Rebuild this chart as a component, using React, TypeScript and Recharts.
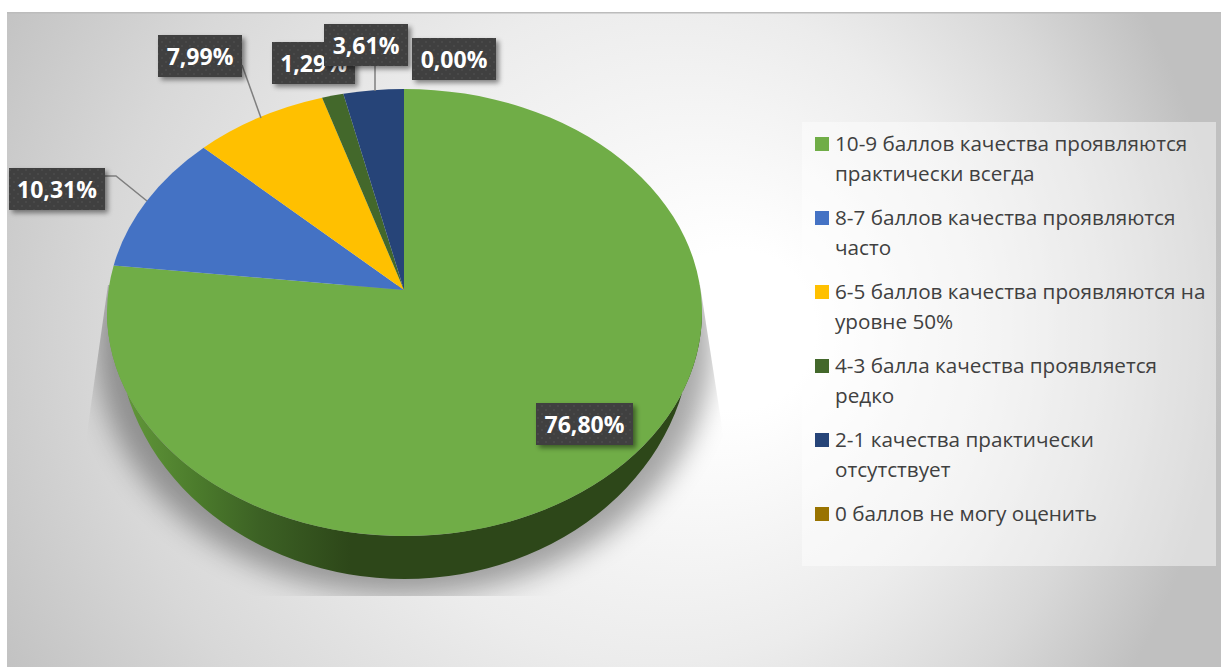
import { PieChart, Pie, Cell, Legend } from 'recharts';

const categories = [
  '10-9 баллов качества проявляются практически всегда',
  '8-7 баллов качества проявляются часто',
  '6-5 баллов качества проявляются на уровне 50%',
  '4-3 балла качества проявляется редко',
  '2-1 качества практически отсутствует',
  '0 баллов не могу оценить',
];
const shares = [76.8, 10.31, 7.99, 1.29, 3.61, 0];
const colors = ['#70AD47', '#4472C4', '#FFC000', '#43682B', '#264478', '#997300'];
const sideColors = ['url(#greenSide)', '#2f4a78', '#997300', '#2b431c', '#17294a', '#5c4500'];

// data labels were dragged by hand in the original, so each box has its own spot
const labelBoxes = [
  { x: 536, y: 403, w: 97 },
  { x: 9, y: 168, w: 96 },
  { x: 158, y: 35, w: 84 },
  { x: 272, y: 42, w: 83 },
  { x: 324, y: 24, w: 84 },
  { x: 412, y: 38, w: 84 },
];
const leaderLines = [
  '',
  'M105 176 L116 176 L147 201',
  'M242 65 L261 118',
  '',
  'M375 66 L375 91',
  '',
];

const data = categories.map((name, i) => ({ name, value: shares[i] }));

// tilted pie: the apex is not the middle of the ellipse
const APEX_X = 404;
const APEX_Y = 290;
const TOP = { cx: 404.5, cy: 312.5, rx: 297.5, ry: 223.5 };
const LOW = { cx: 404.5, cy: 330, rx: 287, ry: 249 };
const STRETCH = 1.34;

function rimPoint(theta: number) {
  const rad = (theta * Math.PI) / 180;
  const dx = STRETCH * Math.sin(rad);
  const dy = -Math.cos(rad);
  const ox = (APEX_X - TOP.cx) / TOP.rx;
  const oy = (APEX_Y - TOP.cy) / TOP.ry;
  const ux = dx / TOP.rx;
  const uy = dy / TOP.ry;
  const a = ux * ux + uy * uy;
  const b = 2 * (ox * ux + oy * uy);
  const c = ox * ox + oy * oy - 1;
  const t = (-b + Math.sqrt(b * b - 4 * a * c)) / (2 * a);
  return { x: APEX_X + t * dx, y: APEX_Y + t * dy };
}

function TiltedSector(props: any) {
  const from = 90 - props.startAngle;
  const to = 90 - props.endAngle;
  if (to - from <= 0) return <g />;
  const p0 = rimPoint(from);
  const p1 = rimPoint(to);
  const large = to - from > 180 ? 1 : 0;
  const d = `M${APEX_X} ${APEX_Y} L${p0.x} ${p0.y} A${TOP.rx} ${TOP.ry} 0 ${large} 1 ${p1.x} ${p1.y} Z`;
  return <path d={d} fill={props.fill} />;
}

function onEllipse(e: typeof TOP, theta: number) {
  const rad = (theta * Math.PI) / 180;
  return { x: e.cx + e.rx * Math.sin(rad), y: e.cy - e.ry * Math.cos(rad) };
}

// wall under the front half of the pie
function TiltedSide(props: any) {
  const from = Math.max(90 - props.startAngle, 90);
  const to = Math.min(90 - props.endAngle, 270);
  if (to <= from) return <g />;
  const a = onEllipse(TOP, from);
  const b = onEllipse(TOP, to);
  const c = onEllipse(LOW, to);
  const e = onEllipse(LOW, from);
  const d = `M${a.x} ${a.y} A${TOP.rx} ${TOP.ry} 0 0 1 ${b.x} ${b.y} L${c.x} ${c.y} A${LOW.rx} ${LOW.ry} 0 0 0 ${e.x} ${e.y} Z`;
  return <path d={d} fill={props.fill} />;
}

function renderLabel(props: any) {
  const box = labelBoxes[props.index];
  const text = `${Number(props.value).toFixed(2).replace('.', ',')}%`;
  return (
    <g key={props.index}>
      {leaderLines[props.index] && (
        <path d={leaderLines[props.index]} fill="none" stroke="#7f7f7f" strokeWidth={1.5} />
      )}
      <rect x={box.x} y={box.y} width={box.w} height={42} fill="url(#dots)" filter="url(#boxShadow)" />
      <text
        x={box.x + box.w / 2}
        y={box.y + 21}
        textAnchor="middle"
        dominantBaseline="central"
        fill="#fff"
        fontFamily="'Open Sans', sans-serif"
        fontWeight={700}
        fontSize={23}
      >
        {text}
      </text>
    </g>
  );
}

function renderLegend(props: any) {
  const items = props.payload.filter((item: any) => item.type !== 'none');
  return (
    <div
      style={{
        width: 414,
        height: 444,
        boxSizing: 'border-box',
        padding: '7px 8px 0 13px',
        background: 'rgba(255,255,255,0.45)',
        fontFamily: "'Open Sans', sans-serif",
        fontSize: 20.7,
        lineHeight: '29.5px',
        color: '#404040',
      }}
    >
      {items.map((item: any) => (
        <div key={item.value} style={{ display: 'flex', height: 74 }}>
          <span
            style={{
              flex: 'none',
              width: 14,
              height: 14,
              marginTop: 8,
              marginRight: 6,
              background: item.color,
            }}
          />
          <span>{item.value}</span>
        </div>
      ))}
    </div>
  );
}

export default function App() {
  return (
    <div style={{ position: 'absolute', left: 0, top: 0 }}>
      <PieChart width={1221} height={667}>
        <defs>
          <radialGradient id="plate" gradientUnits="userSpaceOnUse" cx={560} cy={330} r={665} fx={760} fy={330}>
            <stop offset="12%" stopColor="#ffffff" />
            <stop offset="50%" stopColor="#ececec" />
            <stop offset="76%" stopColor="#d8d8d8" />
            <stop offset="100%" stopColor="#c0c0c0" />
          </radialGradient>
          <linearGradient id="greenSide" gradientUnits="userSpaceOnUse" x1={112} y1={0} x2={350} y2={0}>
            <stop offset="0%" stopColor="#659c3c" />
            <stop offset="35%" stopColor="#4c7c2c" />
            <stop offset="62%" stopColor="#3c6124" />
            <stop offset="100%" stopColor="#2d4719" />
          </linearGradient>
          <pattern id="dots" width={8} height={8} patternUnits="userSpaceOnUse">
            <rect width={8} height={8} fill="#404040" />
            <circle cx={2} cy={2} r={0.8} fill="#565656" />
            <circle cx={6} cy={6} r={0.8} fill="#565656" />
          </pattern>
          <filter id="boxShadow" x="-20%" y="-30%" width="140%" height="160%">
            <feDropShadow dx={3} dy={3} stdDeviation={2.5} floodColor="#000" floodOpacity={0.45} />
          </filter>
          <filter id="soft" x="-20%" y="-20%" width="140%" height="140%">
            <feGaussianBlur stdDeviation={14} />
          </filter>
          <clipPath id="shadowClip">
            <path d="M108 285 L87 433 L87 596 L723 596 L723 433 L700 285 Z" />
          </clipPath>
        </defs>
        <rect x={7} y={13} width={1214} height={654} fill="url(#plate)" />
        <rect x={7} y={12} width={1214} height={1.5} fill="#bcbcbc" />
        <g clipPath="url(#shadowClip)">
          <ellipse cx={404} cy={345} rx={308} ry={250} fill="#000" opacity={0.34} filter="url(#soft)" />
        </g>
        <Pie
          data={data}
          dataKey="value"
          nameKey="name"
          cx={APEX_X}
          cy={APEX_Y}
          outerRadius={297}
          startAngle={90}
          endAngle={-270}
          stroke="none"
          legendType="none"
          shape={TiltedSide}
          isAnimationActive={false}
        >
          {data.map((entry, index) => (
            <Cell key={`side-${index}`} fill={sideColors[index]} />
          ))}
        </Pie>
        <Pie
          data={data}
          dataKey="value"
          nameKey="name"
          cx={APEX_X}
          cy={APEX_Y}
          outerRadius={297}
          startAngle={90}
          endAngle={-270}
          stroke="none"
          legendType="square"
          shape={TiltedSector}
          label={renderLabel}
          labelLine={false}
          isAnimationActive={false}
        >
          {data.map((entry, index) => (
            <Cell key={`cell-${index}`} fill={colors[index]} />
          ))}
        </Pie>
        <Legend
          content={renderLegend}
          itemSorter={null}
          layout="vertical"
          align="right"
          verticalAlign="top"
          wrapperStyle={{ left: 802, top: 122, width: 414, height: 444 }}
        />
      </PieChart>
    </div>
  );
}
